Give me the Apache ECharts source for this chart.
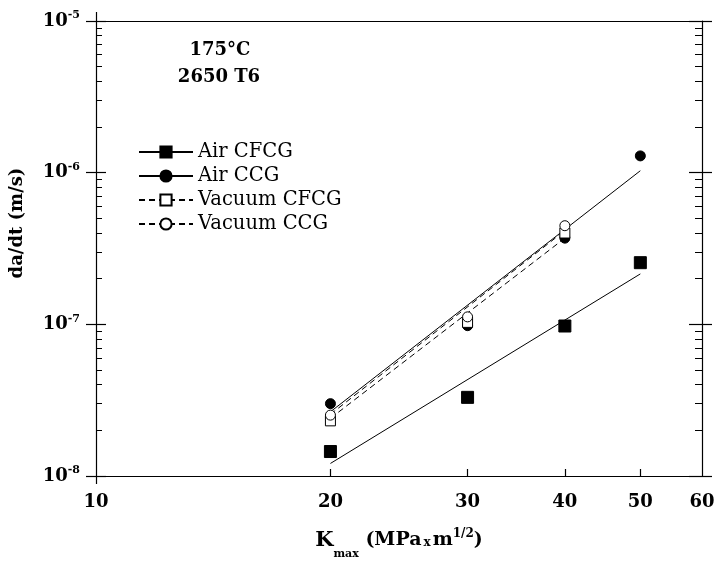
<!DOCTYPE html>
<html>
<head>
<meta charset="utf-8">
<script src="https://cdn.jsdelivr.net/npm/echarts@6/dist/echarts.min.js"></script>
<style>html,body{margin:0;padding:0;background:#fff}#c{width:716px;height:561px}</style>
</head>
<body>
<div id="c"></div>
<script>
// ---- data ----
const xTickLabels = [10, 20, 30, 40, 50, 60];
const xInnerTicks = [20, 30, 40, 50];
const yTickValues = [1e-8, 1e-7, 1e-6, 1e-5];
const yMinorTicks = [2e-8,3e-8,4e-8,5e-8,6e-8,7e-8,8e-8,9e-8,
                     2e-7,3e-7,4e-7,5e-7,6e-7,7e-7,8e-7,9e-7,
                     2e-6,3e-6,4e-6,5e-6,6e-6,7e-6,8e-6,9e-6];

const legendNames = ['Air CFCG', 'Air CCG', 'Vacuum CFCG', 'Vacuum CCG'];

const kAir = [20, 30, 40, 50];
const airCFCG = [1.45e-8, 3.3e-8, 9.75e-8, 2.55e-7];
const airCCG  = [3.0e-8, 9.8e-8, 3.7e-7, 1.29e-6];
const kVac = [20, 30, 40];
const vacCFCG = [2.31e-8, 1.03e-7, 4.0e-7];
const vacCCG  = [2.52e-8, 1.12e-7, 4.47e-7];

// fitted lines (end points)
const kFitAir = [20, 50];
const airCFCGFit = [1.21e-8, 2.15e-7];
const airCCGFit  = [2.65e-8, 1.03e-6];
const kFitVac = [20, 40];
const vacCFCGFit = [2.4e-8, 3.7e-7];
const vacCCGFit  = [2.55e-8, 4.15e-7];

const annotation = ['175°C', '2650 T6'];

// ---- chart ----
const zip = (xs, ys) => xs.map((x, i) => [x, ys[i]]);
const SERIF = 'DejaVu Serif';
const black = '#000';
const baseX = {type: 'log', logBase: 10, min: 10, max: 60, splitLine: {show: false}, gridIndex: 0};
const baseY = {type: 'log', logBase: 10, min: 1e-8, max: 1e-5, splitLine: {show: false}, gridIndex: 0};
const axLine = {show: true, lineStyle: {color: black, width: 1.2}};
const noLine = {show: false};
const noLabel = {show: false};

const filled = {color: black, borderColor: black, borderWidth: 1, opacity: 1};
const hollow = {color: '#fff', borderColor: black, borderWidth: 1, opacity: 1};

const chart = echarts.init(document.getElementById('c'), null, {renderer: 'canvas'});
chart.setOption({
  animation: false,
  backgroundColor: '#fff',
  grid: {left: 96, right: 14, top: 21, bottom: 85, containLabel: false, outerBoundsMode: 'none'},
  legend: {
    show: true, selectedMode: false, orient: 'vertical', left: 138, top: 142, padding: 0,
    itemWidth: 54, itemHeight: 14, itemGap: 4,
    data: legendNames,
    textStyle: {fontFamily: SERIF, fontSize: 19.5, color: black, lineHeight: 20}
  },
  xAxis: [
    Object.assign({}, baseX, {
      position: 'bottom', axisLine: axLine,
      axisTick: {show: true, inside: true, length: 7, customValues: xInnerTicks, lineStyle: {color: black, width: 1.2}},
      axisLabel: {show: true, customValues: xTickLabels, margin: 17, color: black,
        fontFamily: SERIF, fontWeight: 'bold', fontSize: 18},
      name: '{k|K}{sub|max}{n| (MPa}{x|x}{n|m}{sup|1/2}{n|)}',
      nameLocation: 'middle', nameGap: 45,
      nameTextStyle: {
        color: black,
        rich: {
          k: {fontFamily: SERIF, fontWeight: 'bold', fontSize: 21, color: black},
          n: {fontFamily: SERIF, fontWeight: 'bold', fontSize: 19, color: black},
          x: {fontFamily: SERIF, fontWeight: 'bold', fontSize: 12, color: black, padding: [4, 2, 0, 2]},
          sub: {fontFamily: SERIF, fontWeight: 'bold', fontSize: 11, color: black, padding: [28, 0, 0, 0]},
          sup: {fontFamily: SERIF, fontWeight: 'bold', fontSize: 12, color: black, padding: [0, 0, 13, 0]}
        }
      }
    }),
    Object.assign({}, baseX, {
      position: 'bottom', axisLine: noLine, axisLabel: noLabel,
      axisTick: {show: true, inside: false, length: 8, customValues: [10], lineStyle: {color: black, width: 1.2}}
    }),
    Object.assign({}, baseX, {
      position: 'top', axisLine: axLine, axisLabel: noLabel,
      axisTick: {show: true, inside: false, length: 9, customValues: [10], lineStyle: {color: black, width: 1.2}}
    })
  ],
  yAxis: [
    Object.assign({}, baseY, {
      position: 'left', axisLine: axLine,
      axisTick: {show: true, inside: false, length: 10, customValues: yTickValues, lineStyle: {color: black, width: 1.2}},
      axisLabel: {show: true, customValues: yTickValues, margin: 16,
        formatter: v => '{b|10}{s|' + Math.round(Math.log10(v)) + '}',
        rich: {
          b: {fontFamily: SERIF, fontWeight: 'bold', fontSize: 18, color: black},
          s: {fontFamily: SERIF, fontWeight: 'bold', fontSize: 11, color: black, padding: [0, 0, 11, 0]}
        }
      }
    }),
    Object.assign({}, baseY, {
      position: 'left', axisLine: noLine, axisLabel: noLabel,
      axisTick: {show: true, inside: true, length: 10, customValues: yTickValues, lineStyle: {color: black, width: 1.2}}
    }),
    Object.assign({}, baseY, {
      position: 'left', axisLine: noLine, axisLabel: noLabel,
      axisTick: {show: true, inside: true, length: 6, customValues: yMinorTicks, lineStyle: {color: black, width: 1}}
    }),
    Object.assign({}, baseY, {
      position: 'right', axisLine: axLine, axisLabel: noLabel,
      axisTick: {show: true, inside: true, length: 13, customValues: yTickValues, lineStyle: {color: black, width: 1.2}}
    }),
    Object.assign({}, baseY, {
      position: 'right', axisLine: noLine, axisLabel: noLabel,
      axisTick: {show: true, inside: false, length: 10, customValues: yTickValues, lineStyle: {color: black, width: 1.2}}
    }),
    Object.assign({}, baseY, {
      position: 'right', axisLine: noLine, axisLabel: noLabel,
      axisTick: {show: true, inside: true, length: 7, customValues: yMinorTicks, lineStyle: {color: black, width: 1}}
    })
  ],
  graphic: [
    {type: 'text', x: 17, y: 223, rotation: Math.PI / 2,
      style: {text: 'da/dt (m/s)', align: 'center', verticalAlign: 'middle',
        font: 'bold 18px "DejaVu Serif"', fill: black}},
    {type: 'text', x: 220, y: 50,
      style: {text: annotation[0], align: 'center', verticalAlign: 'middle',
        font: 'bold 18px "DejaVu Serif"', fill: black}},
    {type: 'text', x: 219, y: 77,
      style: {text: annotation[1], align: 'center', verticalAlign: 'middle',
        font: 'bold 18px "DejaVu Serif"', fill: black}}
  ],
  series: [
    // fit lines (these carry the legend entries)
    {name: 'Air CFCG', type: 'line', xAxisIndex: 0, yAxisIndex: 0, data: zip(kFitAir, airCFCGFit),
      symbol: 'rect', showSymbol: false, lineStyle: {color: black, width: 1}, itemStyle: filled, z: 2, silent: true},
    {name: 'Air CCG', type: 'line', xAxisIndex: 0, yAxisIndex: 0, data: zip(kFitAir, airCCGFit),
      symbol: 'circle', showSymbol: false, lineStyle: {color: black, width: 1}, itemStyle: filled, z: 2, silent: true},
    {name: 'Vacuum CFCG', type: 'line', xAxisIndex: 0, yAxisIndex: 0, data: zip(kFitVac, vacCFCGFit),
      symbol: 'rect', showSymbol: false, lineStyle: {color: black, width: 1, type: [6, 4]}, itemStyle: hollow, z: 2, silent: true},
    {name: 'Vacuum CCG', type: 'line', xAxisIndex: 0, yAxisIndex: 0, data: zip(kFitVac, vacCCGFit),
      symbol: 'circle', showSymbol: false, lineStyle: {color: black, width: 1, type: [6, 4]}, itemStyle: hollow, z: 2, silent: true},
    // measured points
    {name: 'Air CFCG pts', type: 'scatter', xAxisIndex: 0, yAxisIndex: 0, data: zip(kAir, airCFCG),
      symbol: 'rect', symbolSize: 12, itemStyle: filled, z: 3},
    {name: 'Air CCG pts', type: 'scatter', xAxisIndex: 0, yAxisIndex: 0, data: zip(kAir, airCCG),
      symbol: 'circle', symbolSize: 10, itemStyle: filled, z: 3},
    {name: 'Vacuum CFCG pts', type: 'scatter', xAxisIndex: 0, yAxisIndex: 0, data: zip(kVac, vacCFCG),
      symbol: 'rect', symbolSize: 10, itemStyle: hollow, z: 4},
    {name: 'Vacuum CCG pts', type: 'scatter', xAxisIndex: 0, yAxisIndex: 0, data: zip(kVac, vacCCG),
      symbol: 'circle', symbolSize: 10, itemStyle: hollow, z: 5}
  ]
});
</script>
</body>
</html>
